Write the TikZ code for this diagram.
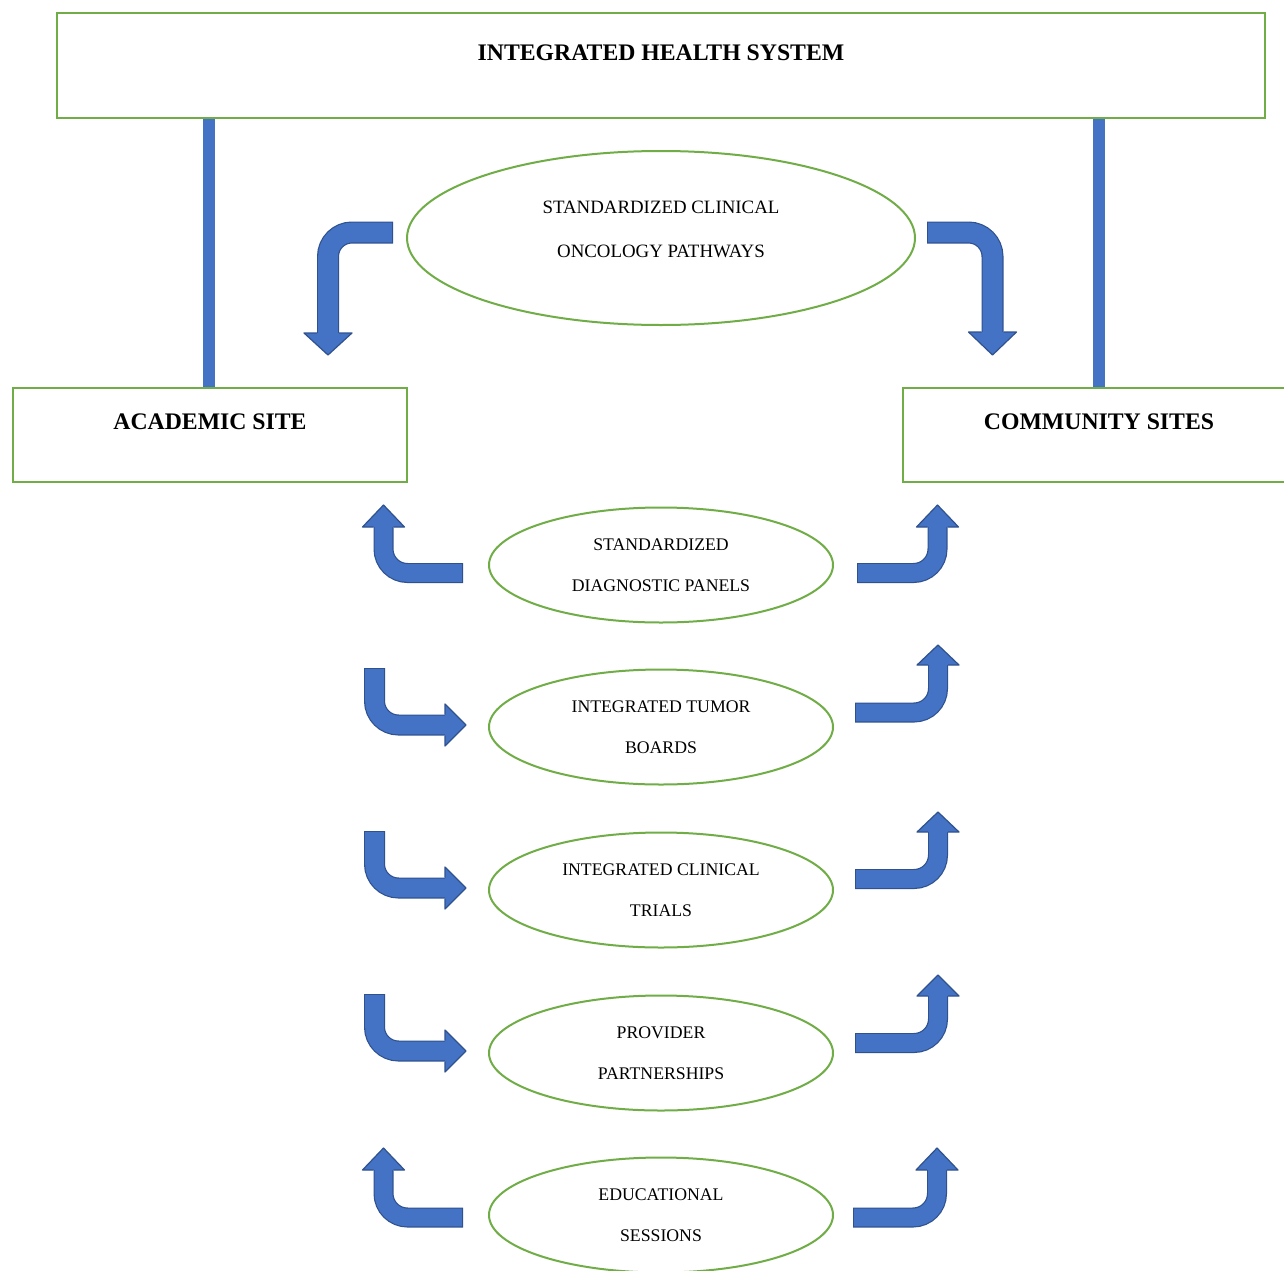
\documentclass[tikz,border=0pt]{standalone}
\usepackage{fontspec}
\setmainfont{Liberation Serif}
\usetikzlibrary{shapes.geometric}
\definecolor{grn}{HTML}{70AD47}
\definecolor{abl}{HTML}{4472C4}
\definecolor{abd}{HTML}{2F528F}
\tikzset{
  box/.style={draw=grn, line width=1.5pt, inner sep=0pt, rectangle},
  oval/.style={draw=grn, line width=1.5pt, ellipse, inner sep=0pt, minimum width=258pt, minimum height=86.25pt},
  bigoval/.style={draw=grn, line width=1.5pt, ellipse, inner sep=0pt, minimum width=381pt, minimum height=130.5pt},
  ttl/.style={font=\fontsize{17.8}{21}\selectfont\bfseries, inner sep=0pt},
  otxt/.style={font=\fontsize{13.3}{30.75}\selectfont, align=center, inner sep=0pt},
  btxt/.style={font=\fontsize{14.15}{33}\selectfont, align=center, inner sep=0pt},
  bar/.style={abl, line width=9pt},
}
% vertical-ending bent arrow: name, tailx, taily, cornerx, basey, tipy, half shaft, half head
\newcommand{\varrow}[8]{%
  \coordinate (#1t) at (#2,#3);
  \coordinate (#1c) at (#4,#3);
  \coordinate (#1b) at (#4,#5);
  \coordinate (#1p) at (#4,#6);
  \draw[abd, line width={2*#7*0.75pt}, rounded corners=18pt] (#1t) -- (#1c) -- (#1b);
  \draw[abl, line width={(2*#7-2.4)*0.75pt}, rounded corners=18pt, shorten <=0.9pt] (#1t) -- (#1c) -- (#1b);
  \fill[abl] ({#4-#8},#5) -- (#1p) -- ({#4+#8},#5) -- cycle;
  \draw[abd, line width=0.9pt, line join=round] ({#4-#7},#5) -- ({#4-#8},#5) -- (#1p) -- ({#4+#8},#5) -- ({#4+#7},#5);
}
% horizontal-ending bent arrow: name, tailx, taily, cornery, basex, tipx, half shaft, half head
\newcommand{\harrow}[8]{%
  \coordinate (#1t) at (#2,#3);
  \coordinate (#1c) at (#2,#4);
  \coordinate (#1b) at (#5,#4);
  \coordinate (#1p) at (#6,#4);
  \draw[abd, line width={2*#7*0.75pt}, rounded corners=18pt] (#1t) -- (#1c) -- (#1b);
  \draw[abl, line width={(2*#7-2.4)*0.75pt}, rounded corners=18pt, shorten <=0.9pt] (#1t) -- (#1c) -- (#1b);
  \fill[abl] (#5,{#4-#8}) -- (#1p) -- (#5,{#4+#8}) -- cycle;
  \draw[abd, line width=0.9pt, line join=round] (#5,{#4-#7}) -- (#5,{#4-#8}) -- (#1p) -- (#5,{#4+#8}) -- (#5,{#4+#7});
}
\begin{document}
\begin{tikzpicture}[x=0.75pt,y=-0.75pt]
\useasboundingbox (0,0) rectangle (1284,1270);
\fill[white] (0,0) rectangle (1284,1270);
% boxes
\node[box, minimum width=906pt, minimum height=78.75pt] (top) at (661,65.5) {};
\node[box, minimum width=295.5pt, minimum height=70.5pt] (acad) at (210,435) {};
\node[box, minimum width=294pt, minimum height=70.5pt] (comm) at (1099,435) {};
% bars
\draw[bar] (acad.north) ++(-1,0) coordinate (ab) -- (ab |- top.south);
\draw[bar] (comm.north) -- (comm.north |- top.south);
\node[box, minimum width=295.5pt, minimum height=70.5pt] at (acad) {};
\node[box, minimum width=294pt, minimum height=70.5pt] at (comm) {};
\node[ttl] (toptxt) at (661,53) {INTEGRATED HEALTH SYSTEM};
\node[ttl] (acadtxt) at (210,422) {ACADEMIC SITE};
\node[ttl] (commtxt) at (1099,422) {COMMUNITY SITES};
% ellipses
\node[bigoval] (path) at (661,238) {};
\node[btxt] (pathtxt) at (661,229) {STANDARDIZED CLINICAL\\ONCOLOGY PATHWAYS};
\node[oval, otxt] (diag) at (661,565) {STANDARDIZED\\DIAGNOSTIC PANELS};
\node[oval, otxt] (tumor) at (661,727) {INTEGRATED TUMOR\\BOARDS};
\node[oval, otxt] (trial) at (661,890) {INTEGRATED CLINICAL\\TRIALS};
\node[oval, otxt] (prov) at (661,1053) {PROVIDER\\PARTNERSHIPS};
\node[oval, otxt] (edu) at (661,1215) {EDUCATIONAL\\SESSIONS};
% bent arrows
\varrow{a1}{393}{232.5}{328}{333}{355}{11}{24}
\varrow{a2}{927}{232.5}{992.5}{332}{355}{11}{24}
\varrow{b1}{463}{573}{383.5}{527}{505}{10}{21}
\varrow{c1}{857}{573}{937.5}{527}{505}{10}{21}
\harrow{b2}{374.5}{668}{725}{445}{466}{10.5}{21}
\varrow{c2}{855}{712.5}{938}{665}{645}{10}{21}
\harrow{b3}{374.5}{831}{888}{445}{466}{10.5}{21}
\varrow{c3}{855}{879}{938}{832}{812}{10}{21}
\harrow{b4}{374.5}{994}{1051}{445}{466}{10.5}{21}
\varrow{c4}{855}{1043}{938}{996}{975}{10}{21}
\varrow{b5}{463}{1217.5}{383.5}{1170}{1148}{10}{21}
\varrow{c5}{853}{1217.5}{937}{1170}{1148}{10}{21}
\end{tikzpicture}
\end{document}
